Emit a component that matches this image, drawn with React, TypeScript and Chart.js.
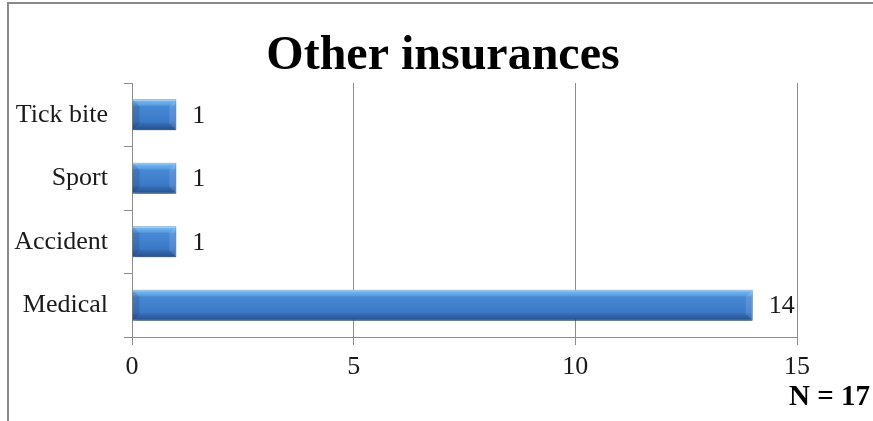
import React, { useEffect, useRef } from "react";
import { Chart, registerables } from "chart.js";

Chart.register(...registerables);

const categories = ["Tick bite", "Sport", "Accident", "Medical"];
const values = [1, 1, 1, 14];
const xTicks = [0, 5, 10, 15];
const titleText = "Other insurances";
const noteText = "N = 17";

const SERIF = "'Liberation Serif', 'Times New Roman', serif";

export default function App() {
  const ref = useRef<HTMLCanvasElement | null>(null);

  useEffect(() => {
    document.body.style.margin = "0";
    const canvas = ref.current!;
    const decor = {
      id: "decor",
      beforeDatasetDraw(chart: any) {
        const ctx = chart.ctx;
        ctx.save();
        ctx.shadowColor = "rgba(0,0,0,0.35)";
        ctx.shadowBlur = 5;
        ctx.shadowOffsetY = 3;
        ctx.shadowOffsetX = 1;
      },
      afterDatasetDraw(chart: any) {
        chart.ctx.restore();
        const ctx = chart.ctx;
        const meta = chart.getDatasetMeta(0);
        ctx.save();
        meta.data.forEach((bar: any, i: number) => {
          const top = bar.y - bar.height / 2;
          const bot = bar.y + bar.height / 2;
          const left = bar.base;
          const right = bar.x;
          const b = 7;
          ctx.fillStyle = "rgba(0,25,70,0.13)";
          ctx.beginPath();
          ctx.moveTo(left, top);
          ctx.lineTo(left + b, top + b);
          ctx.lineTo(left + b, bot - b);
          ctx.lineTo(left, bot);
          ctx.closePath();
          ctx.fill();
          ctx.fillStyle = "rgba(255,255,255,0.12)";
          ctx.beginPath();
          ctx.moveTo(right, top);
          ctx.lineTo(right - b, top + b);
          ctx.lineTo(right - b, bot - b);
          ctx.lineTo(right, bot);
          ctx.closePath();
          ctx.fill();
          ctx.fillStyle = "rgba(190,230,255,0.6)";
          ctx.fillRect(left, top, right - left, 1.5);
          ctx.fillStyle = "#1a1a1a";
          ctx.font = "26px " + SERIF;
          ctx.textAlign = "left";
          ctx.textBaseline = "middle";
          ctx.fillText(String(values[i]), right + 16, bar.y + 1);
        });
        ctx.restore();
      },
      afterDraw(chart: any) {
        const ctx = chart.ctx;
        ctx.save();
        ctx.fillStyle = "#8a8a8a";
        ctx.fillRect(7, 2, 2, 421);
        ctx.fillRect(7, 2, 866, 2);
        ctx.fillStyle = "#000";
        ctx.font = "bold 48px " + SERIF;
        ctx.textAlign = "center";
        ctx.textBaseline = "alphabetic";
        ctx.fillText(titleText, 443, 69);
        ctx.font = "bold 29px " + SERIF;
        ctx.textAlign = "right";
        ctx.fillText(noteText, 870, 405);
        ctx.restore();
      },
    };

    const chart = new Chart(canvas, {
      type: "bar",
      data: {
        labels: categories,
        datasets: [
          {
            data: values,
            backgroundColor: (c: any) => {
              const ch = c.chart;
              const ys = ch.scales && ch.scales.y;
              if (!ys || !ch.chartArea) return "#3f7fcc";
              const center = ys.getPixelForValue(c.dataIndex);
              const h = 16;
              const g = ch.ctx.createLinearGradient(0, center - h, 0, center + h);
              g.addColorStop(0, "#8fcaf7");
              g.addColorStop(0.1, "#6db0ee");
              g.addColorStop(0.2, "#5a9ce2");
              g.addColorStop(0.24, "#4788d4");
              g.addColorStop(0.72, "#3b79c6");
              g.addColorStop(0.8, "#3268b0");
              g.addColorStop(1, "#244e88");
              return g;
            },
            borderColor: "#2c5a94",
            borderWidth: 1,
            barPercentage: 0.98,
            categoryPercentage: 0.5,
          },
        ],
      },
      options: {
        indexAxis: "y",
        responsive: false,
        animation: false,
        devicePixelRatio: 1,
        layout: { padding: { left: 0, top: 83, right: 76, bottom: 0 } },
        plugins: {
          legend: { display: false },
          title: { display: false },
          tooltip: { enabled: false },
        },
        scales: {
          x: {
            min: 0,
            max: 15,
            afterBuildTicks: (s: any) => {
              s.ticks = xTicks.map((v) => ({ value: v }));
            },
            afterFit: (s: any) => {
              s.height = 84;
            },
            grid: {
              color: "#8c8c8c",
              lineWidth: 1,
              tickLength: 8,
              drawOnChartArea: true,
            },
            border: { color: "#8c8c8c", width: 1 },
            ticks: {
              color: "#1a1a1a",
              font: { family: SERIF, size: 26 },
              padding: 7,
              maxRotation: 0,
            },
          },
          y: {
            afterFit: (s: any) => {
              s.width = 132;
            },
            grid: {
              offset: true,
              drawOnChartArea: false,
              color: "#8c8c8c",
              tickLength: 8,
            },
            border: { color: "#8c8c8c", width: 1 },
            ticks: {
              color: "#1a1a1a",
              font: { family: SERIF, size: 26 },
              padding: 16,
            },
          },
        },
      },
      plugins: [decor],
    } as any);

    return () => chart.destroy();
  }, []);

  return (
    <div style={{ position: "relative", width: 873, height: 421 }}>
      <canvas ref={ref} width={873} height={421} style={{ display: "block" }} />
    </div>
  );
}
